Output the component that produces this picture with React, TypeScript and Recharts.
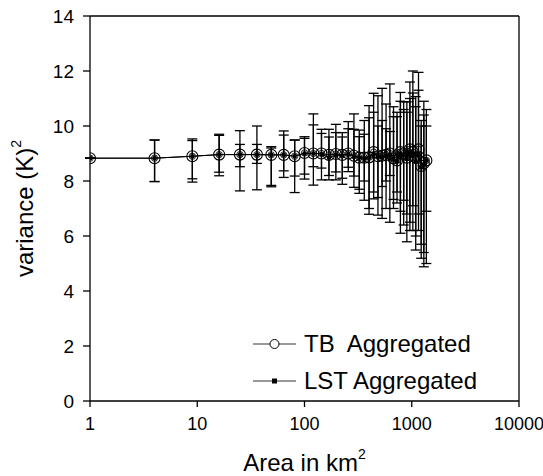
import React from 'react'
import {
  ComposedChart,
  Line,
  XAxis,
  YAxis,
  ErrorBar,
  ReferenceLine,
  Label,
} from 'recharts'

// block sizes (km², n x n pixels)
const AREA = [
  1, 4, 9, 16, 25, 36, 49, 64, 81, 100, 121, 144, 169, 196, 225, 256, 289, 324, 361, 400,
  441, 484, 529, 576, 625, 676, 729, 784, 841, 900, 961, 1024, 1089, 1156, 1225, 1296, 1369,
]

const TB_MEAN = [
  8.83, 8.83, 8.9, 8.96, 8.96, 8.96, 8.95, 8.95, 8.9, 9.02, 9.0, 9.0, 8.95, 8.98, 8.95, 9.0, 8.92, 8.85, 8.85, 8.86,
  9.05, 8.9, 8.92, 8.95, 9.0, 8.82, 8.75, 9.05, 9.0, 8.85, 9.15, 9.05, 8.85, 9.15, 8.55, 8.65, 8.75,
]
const TB_HIGH = [
  8.83, 9.49, 9.47, 9.66, 9.33, 9.33, 9.2, 9.67, 9.49, 9.61, 10.04, 9.73, 9.6, 9.76, 9.76, 10.16, 9.88, 9.61, 9.7, 10.74,
  10.5, 10.0, 10.2, 9.9, 9.8, 10.34, 10.34, 11.22, 10.6, 10.88, 11.0, 12.0, 11.07, 11.3, 10.2, 10.9, 10.6,
]
const TB_LOW = [
  8.83, 7.98, 8.08, 8.32, 8.52, 8.64, 7.84, 8.37, 8.18, 8.25, 8.52, 8.47, 8.2, 8.33, 8.1, 8.34, 8.18, 7.7, 8.0, 7.0,
  7.6, 7.4, 7.8, 8.0, 8.2, 7.33, 7.2, 6.1, 7.3, 5.79, 6.5, 6.2, 5.49, 6.8, 5.19, 4.88, 5.0,
]

const LST_MEAN = [
  8.83, 8.83, 8.9, 8.96, 8.96, 8.96, 8.95, 8.95, 8.9, 9.0, 9.0, 8.98, 8.85, 8.95, 8.92, 8.98, 8.9, 8.85, 8.83, 8.85,
  9.0, 8.88, 8.85, 8.92, 8.95, 8.8, 8.72, 9.0, 8.95, 8.8, 9.05, 8.95, 8.7, 9.0, 8.5, 8.6, 8.75,
]
const LST_HIGH = [
  8.83, 9.49, 9.53, 9.7, 9.83, 10.0, 9.25, 9.82, 9.49, 9.55, 10.44, 9.88, 9.88, 10.06, 9.6, 9.9, 10.44, 9.85, 10.2, 10.3,
  11.19, 11.1, 11.37, 10.8, 11.53, 10.7, 10.5, 10.9, 10.88, 10.5, 11.6, 11.2, 10.7, 11.95, 10.0, 10.4, 10.0,
]
const LST_LOW = [
  8.83, 7.98, 7.96, 8.19, 7.64, 7.68, 7.79, 8.13, 7.58, 8.07, 7.85, 8.04, 8.04, 8.04, 7.88, 8.5, 7.77, 7.55, 7.3, 6.79,
  7.35, 6.76, 6.64, 7.0, 6.5, 7.0, 7.6, 6.9, 6.4, 6.8, 6.2, 7.1, 6.0, 6.2, 5.7, 5.4, 6.9,
]

const X_TICKS = [1, 10, 100, 1000, 10000]
const Y_TICKS = [0, 2, 4, 6, 8, 10, 12, 14]

const data = AREA.map((a, i) => ({
  area: a,
  tb: TB_MEAN[i],
  tbErr: [TB_MEAN[i] - TB_LOW[i], TB_HIGH[i] - TB_MEAN[i]],
  lst: LST_MEAN[i],
  lstErr: [LST_MEAN[i] - LST_LOW[i], LST_HIGH[i] - LST_MEAN[i]],
}))

const FONT = '"Liberation Sans", Arial, Helvetica, sans-serif'

const TbDot = (p: any) => {
  if (p.cx == null || p.cy == null) return null
  return (
    <g>
      <circle cx={p.cx} cy={p.cy} r={5.5} fill="none" stroke="#000" strokeWidth={1.1} />
      <circle cx={p.cx} cy={p.cy} r={3.2} fill="none" stroke="#000" strokeWidth={0.8} />
    </g>
  )
}

const LstDot = (p: any) => {
  if (p.cx == null || p.cy == null) return null
  return <rect x={p.cx - 2} y={p.cy - 2} width={4} height={4} fill="#000" />
}

const YTitle = (props: any) => {
  const vb = props.viewBox || {}
  const cx = 33
  const cy = vb.y + vb.height / 2
  return (
    <text
      x={cx}
      y={cy}
      transform={`rotate(-90, ${cx}, ${cy})`}
      textAnchor="middle"
      fontSize={24}
      fontFamily={FONT}
      fill="#000"
    >
      variance (K)
      <tspan fontSize={14} dy={-12}>2</tspan>
    </text>
  )
}

const XTitle = (props: any) => {
  const vb = props.viewBox || {}
  const cx = vb.x + vb.width / 2
  return (
    <text x={cx} y={471} textAnchor="middle" fontSize={24} fontFamily={FONT} fill="#000">
      Area in km
      <tspan fontSize={14} dy={-12}>2</tspan>
    </text>
  )
}

function LegendBox() {
  const row = (label: string, kind: 'tb' | 'lst') => (
    <div style={{ display: 'flex', alignItems: 'center', height: 37 }}>
      <svg width={44} height={20} style={{ marginRight: 7 }}>
        <line x1={0} y1={10} x2={43} y2={10} stroke="#333" strokeWidth={1} />
        {kind === 'tb' ? (
          <circle cx={21.5} cy={10} r={4.5} fill="#fff" stroke="#000" strokeWidth={1} />
        ) : (
          <rect x={19} y={7.5} width={5} height={5} fill="#000" />
        )}
      </svg>
      <span style={{ fontSize: 24, fontFamily: FONT, whiteSpace: 'pre', color: '#000' }}>{label}</span>
    </div>
  )
  return (
    <div style={{ position: 'absolute', left: 253, top: 325 }}>
      {row('TB  Aggregated', 'tb')}
      {row('LST Aggregated', 'lst')}
    </div>
  )
}

export default function App() {
  return (
    <div style={{ position: 'absolute', left: 0, top: 0, width: 543, height: 476, overflow: 'hidden', background: '#fff' }}>
      <ComposedChart
        width={543}
        height={476}
        data={data}
        margin={{ top: 16, right: 24, bottom: 35, left: 40 }}
      >
        <XAxis
          dataKey="area"
          type="number"
          scale="log"
          domain={[1, 10000]}
          ticks={X_TICKS}
          allowDataOverflow
          height={40}
          tickSize={6}
          tickMargin={10}
          stroke="#000"
          strokeWidth={1.3}
          tick={{ fill: '#000', fontSize: 18, fontFamily: FONT }}
        >
          <Label content={<XTitle />} />
        </XAxis>
        <YAxis
          type="number"
          domain={[0, 14]}
          ticks={Y_TICKS}
          width={50}
          tickSize={7}
          tickMargin={9}
          stroke="#000"
          strokeWidth={1.3}
          tick={{ fill: '#000', fontSize: 19, fontFamily: FONT }}
        >
          <Label content={<YTitle />} />
        </YAxis>
        <ReferenceLine y={14} stroke="#000" strokeWidth={1.3} />
        <ReferenceLine x={10000} stroke="#000" strokeWidth={1.3} />
        <Line
          dataKey="tb"
          stroke="#000"
          strokeWidth={1}
          dot={<TbDot />}
          activeDot={false}
          isAnimationActive={false}
        >
          <ErrorBar dataKey="tbErr" width={5} stroke="#000" strokeWidth={1.3} direction="y" isAnimationActive={false} />
        </Line>
        <Line
          dataKey="lst"
          stroke="#000"
          strokeWidth={1}
          dot={<LstDot />}
          activeDot={false}
          isAnimationActive={false}
        >
          <ErrorBar dataKey="lstErr" width={5} stroke="#000" strokeWidth={1.3} direction="y" isAnimationActive={false} />
        </Line>
      </ComposedChart>
      <LegendBox />
    </div>
  )
}
